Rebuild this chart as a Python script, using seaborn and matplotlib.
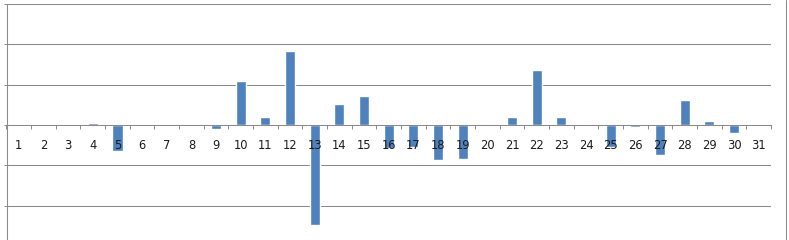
import matplotlib
matplotlib.use("Agg")
import matplotlib.pyplot as plt
from matplotlib.lines import Line2D
import seaborn as sns
import pandas as pd
import numpy as np

days = [str(d) for d in range(1, 32)]
values = [0, 0, 0, 0.04, -0.64, 0, 0, 0, -0.09, 1.10,
          0.20, 1.84, -2.48, 0.52, 0.72, -0.57, -0.55, -0.87, -0.84, 0.03,
          0.20, 1.37, 0.20, 0, -0.55, -0.04, -0.74, 0.62, 0.10, -0.21, 0]
y_ticks = [-3, -2, -1, 0, 1, 2, 3]

W, H = 789, 240
sns.set_theme(style="white")
plt.rcParams['font.family'] = ['DejaVu Sans']
fig = plt.figure(figsize=(W / 100, H / 100), dpi=100)

left_px, right_px = 6.5, 771
top_px = 4
px_per_unit = (125 - top_px) / 3.0
bottom_px = 125 + 3 * px_per_unit
ax = fig.add_axes([left_px / W, 1 - bottom_px / H, (right_px - left_px) / W, (bottom_px - top_px) / H])

df = pd.DataFrame({"day": days, "value": values})
grid_c = "#8a8a8a"
lw = 0.75
for yv in y_ticks:
    if yv != 0:
        ax.axhline(yv, color=grid_c, lw=lw, zorder=0)

sns.barplot(data=df, x="day", y="value", order=days, color="#4F81BD",
            saturation=1, width=0.41, ax=ax, zorder=2)

ax.set_xlim(-0.5, len(days) - 0.5)
ax.set_ylim(min(y_ticks), max(y_ticks))
ax.set_yticks(y_ticks)
ax.set_xlabel("")
ax.set_ylabel("")

for s in ["top", "right"]:
    ax.spines[s].set_visible(False)
ax.spines["bottom"].set_position(("data", 0))
ax.spines["bottom"].set_color(grid_c)
ax.spines["bottom"].set_linewidth(lw)
ax.spines["left"].set_color(grid_c)
ax.spines["left"].set_linewidth(lw)

ax.set_xticks(np.arange(len(days)))
ax.set_xticklabels(days)
ax.set_xticks(np.arange(len(days) + 1) - 0.5, minor=True)
ax.tick_params(axis="x", which="major", length=0, pad=9.8, labelsize=8.3, labelcolor="#1a1a1a")
ax.tick_params(axis="x", which="minor", length=3, width=0.7, color=grid_c, direction="out", bottom=True)
ax.tick_params(axis="y", which="major", length=2.5, width=0.7, color=grid_c, direction="out",
               left=True, labelleft=False)
for t in ax.get_xticklabels():
    t.set_zorder(5)
ax.xaxis.set_zorder(5)
ax.patch.set_alpha(0)

fig.add_artist(Line2D([785.5 / W, 785.5 / W], [0, 1], color=grid_c, lw=lw, transform=fig.transFigure))

fig.savefig("out.png", dpi=100)
